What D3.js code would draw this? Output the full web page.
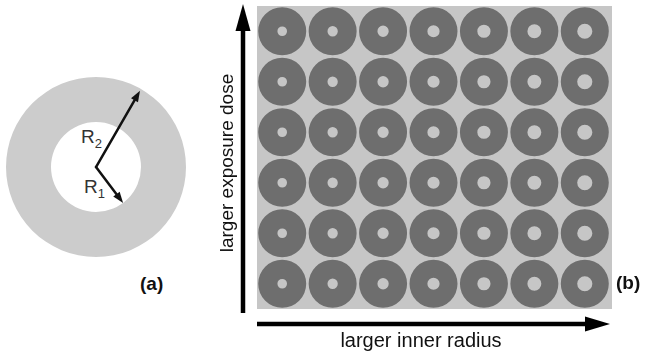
<!DOCTYPE html>
<html>
<head>
<meta charset="utf-8">
<script src="https://cdn.jsdelivr.net/npm/d3@7"></script>
<style>
  body { margin: 0; background: #fff; }
  svg { display: block; font-family: "Liberation Sans", Arial, sans-serif; }
</style>
</head>
<body>
<svg id="chart"></svg>
<script>
const width = 648;
const height = 357;

// panel (b): columns = inner radius steps, rows = exposure dose steps
const radiusSteps = ["r1", "r2", "r3", "r4", "r5", "r6", "r7"];
const doseSteps = ["d6", "d5", "d4", "d3", "d2", "d1"];   // top row = largest dose
const innerRatio = [0.2, 0.215, 0.235, 0.255, 0.275, 0.29, 0.315];  // R1 / R2 per column

// panel (a): schematic ring
const ringRatio = 0.5;          // R1 / R2
const r2Angle = -60;            // degrees, R2 arrow direction
const r1Angle = 53;             // degrees, R1 arrow direction

const labels = { a: "(a)", b: "(b)", yAxis: "larger exposure dose", xAxis: "larger inner radius" };

const svg = d3.select("#chart")
    .attr("width", width)
    .attr("height", height)
    .attr("viewBox", [0, 0, width, height]);

// soft edges like the scanned figure
svg.append("defs").append("filter")
    .attr("id", "soft")
    .append("feGaussianBlur")
    .attr("stdDeviation", 0.6);

// ---------- panel (b) ----------
const gridLeft = 257, gridRight = 610, gridTop = 6, gridBottom = 309;

const x = d3.scaleBand()
    .domain(radiusSteps)
    .range([gridLeft, gridRight]);
const y = d3.scaleBand()
    .domain(doseSteps)
    .range([gridTop, gridBottom]);
const outerR = 24;
const rScale = d3.scaleLinear().domain([0, 1]).range([0, outerR]);

svg.append("rect")
    .attr("x", gridLeft)
    .attr("y", gridTop)
    .attr("width", 612 - gridLeft)
    .attr("height", gridBottom - gridTop)
    .attr("fill", "#c6c6c6");

const cells = [];
doseSteps.forEach(d => radiusSteps.forEach((r, i) => cells.push({ dose: d, col: r, ratio: innerRatio[i] })));

const arc = d3.arc().startAngle(0).endAngle(2 * Math.PI);

svg.append("g")
    .attr("filter", "url(#soft)")
    .selectAll("path")
    .data(cells)
    .join("path")
    .attr("transform", d => `translate(${x(d.col) + x.bandwidth() / 2},${y(d.dose) + y.bandwidth() / 2})`)
    .attr("d", d => arc({ innerRadius: rScale(d.ratio), outerRadius: rScale(1) }))
    .attr("fill", "#6e6e6e");

// axis arrows
const ax = 243;
svg.append("line")   // vertical
    .attr("x1", ax).attr("x2", ax)
    .attr("y1", 313).attr("y2", 28)
    .attr("stroke", "#000").attr("stroke-width", 4.5);
svg.append("path")
    .attr("d", `M${ax},4 L${ax - 7.5},31 L${ax + 7.5},31 Z`)
    .attr("fill", "#000");

const ay = 324;
svg.append("line")   // horizontal
    .attr("x1", 257).attr("x2", 588)
    .attr("y1", ay).attr("y2", ay)
    .attr("stroke", "#000").attr("stroke-width", 4.5);
svg.append("path")
    .attr("d", `M610,${ay} L585,${ay - 7.5} L585,${ay + 7.5} Z`)
    .attr("fill", "#000");

svg.append("text")
    .attr("transform", `translate(233,163) rotate(-90)`)
    .attr("text-anchor", "middle")
    .attr("font-size", 19)
    .attr("fill", "#111")
    .text(labels.yAxis);

svg.append("text")
    .attr("x", 421)
    .attr("y", 347)
    .attr("text-anchor", "middle")
    .attr("font-size", 20)
    .attr("fill", "#111")
    .text(labels.xAxis);

svg.append("text")
    .attr("x", 616)
    .attr("y", 289)
    .attr("font-size", 19)
    .attr("font-weight", "bold")
    .attr("fill", "#111")
    .text(labels.b);

// ---------- panel (a) ----------
const cx = 96, cy = 167, R2 = 90;
const ring = d3.scaleLinear().domain([0, 1]).range([0, R2]);

svg.append("path")
    .attr("transform", `translate(${cx},${cy})`)
    .attr("d", arc({ innerRadius: ring(ringRatio), outerRadius: ring(1) }))
    .attr("fill", "#cccccc");

function radiusArrow(angleDeg, len) {
    const t = angleDeg * Math.PI / 180;
    const ux = Math.cos(t), uy = Math.sin(t);
    const tipX = cx + ux * len, tipY = cy + uy * len;
    const headL = 11, headW = 4;
    const bx = tipX - ux * headL, by = tipY - uy * headL;
    svg.append("line")
        .attr("x1", cx).attr("y1", cy)
        .attr("x2", bx + ux * 2).attr("y2", by + uy * 2)
        .attr("stroke", "#111").attr("stroke-width", 2.5)
        .attr("stroke-linecap", "round");
    svg.append("path")
        .attr("d", `M${tipX},${tipY} L${bx - uy * headW},${by + ux * headW} L${bx + uy * headW},${by - ux * headW} Z`)
        .attr("fill", "#111");
}
radiusArrow(r2Angle, ring(1) - 2);
radiusArrow(r1Angle, ring(ringRatio));

const rLabel = (xx, yy, sub) => {
    const t = svg.append("text")
        .attr("x", xx).attr("y", yy)
        .attr("font-size", 19)
        .attr("fill", "#333");
    t.append("tspan").text("R");
    t.append("tspan").attr("font-size", 13).attr("dy", 5).text(sub);
};
rLabel(81, 143, "2");
rLabel(84, 193, "1");

svg.append("text")
    .attr("x", 140)
    .attr("y", 290)
    .attr("font-size", 19)
    .attr("font-weight", "bold")
    .attr("fill", "#111")
    .text(labels.a);
</script>
</body>
</html>
